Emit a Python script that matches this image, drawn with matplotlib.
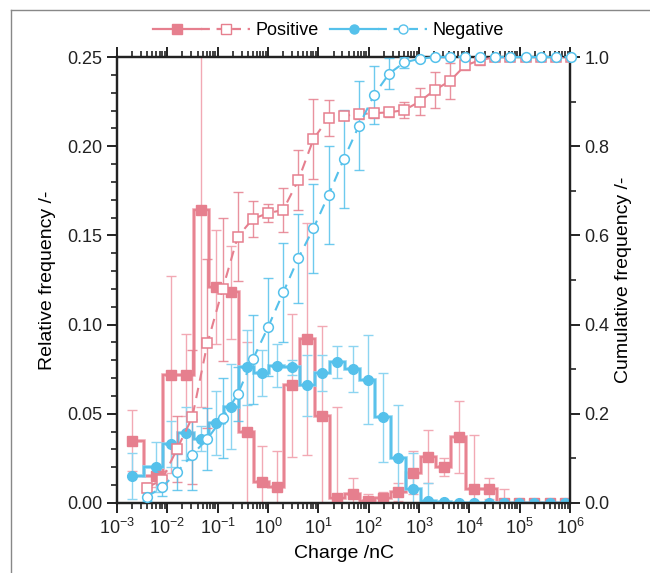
import matplotlib
matplotlib.use("Agg")
import matplotlib.pyplot as plt
from matplotlib.lines import Line2D
from matplotlib.legend_handler import HandlerTuple
from matplotlib.ticker import MultipleLocator, LogLocator, NullFormatter
import numpy as np

plt.rcParams['font.family'] = ['Liberation Sans', 'DejaVu Sans']
plt.rcParams['mathtext.fontset'] = 'custom'
plt.rcParams['mathtext.rm'] = 'Liberation Sans'
plt.rcParams['mathtext.it'] = 'Liberation Sans:italic'
plt.rcParams['mathtext.bf'] = 'Liberation Sans:bold'

# bin centres (relative frequency) and upper bin edges (cumulative), nC
centers = [0.00195, 0.00586, 0.0117, 0.0234, 0.0469, 0.0938, 0.1875, 0.375, 0.75,
           1.5, 3, 6, 12, 24, 48, 96, 192, 384, 768, 1536, 3072, 6144, 12288,
           24576, 49152, 98304, 196608, 393216, 786432]
upper_edges = [0.0039, 0.0078, 0.0156, 0.03125, 0.0625, 0.125, 0.25, 0.5, 1, 2,
               4, 8, 16, 32, 64, 128, 256, 512, 1024, 2048, 4096, 8192, 16384,
               32768, 65536, 131072, 262144, 524288, 1048576]

# positive charges
pos_rel = [0.035, 0.015, 0.072, 0.072, 0.164, 0.121, 0.118, 0.040, 0.012, 0.009,
           0.066, 0.092, 0.049, 0.003, 0.005, 0.001, 0.003, 0.006, 0.017, 0.026,
           0.020, 0.037, 0.008, 0.008, 0, 0, 0, 0, 0]
pos_rel_err = [0.017, 0.006, 0.055, 0.023, 0.11, 0.032, 0.026, 0.05, 0.02, 0.02,
               0.04, 0.065, 0.05, 0.051, 0.009, 0.004, 0.003, 0.005, 0.012, 0.015,
               0.005, 0.02, 0.03, 0.006, 0.008, 0, 0, 0, 0]
pos_cum = [0.034, 0.052, 0.121, 0.192, 0.358, 0.479, 0.597, 0.637, 0.650, 0.657,
           0.724, 0.816, 0.864, 0.868, 0.872, 0.874, 0.876, 0.881, 0.900, 0.926,
           0.946, 0.981, 0.993, 1.0, 1.0, 1.0, 1.0, 1.0, 1.0]
pos_cum_err = [0.01, 0.02, 0.074, 0.15, 0.19, 0.16, 0.10, 0.04, 0.02, 0.05,
               0.067, 0.09, 0.04, 0.01, 0.01, 0.01, 0.01, 0.018, 0.03, 0.04,
               0.04, 0.01, 0.01, 0, 0, 0, 0, 0, 0]

# negative charges
neg_rel = [0.015, 0.020, 0.033, 0.039, 0.036, 0.045, 0.054, 0.076, 0.073, 0.077,
           0.076, 0.066, 0.073, 0.079, 0.075, 0.069, 0.048, 0.025, 0.008, 0.001,
           0.0005, 0, 0, 0, 0, 0, 0, 0, 0]
neg_rel_err = [0.013, 0.014, 0.013, 0.015, 0.007, 0.018, 0.024, 0.021, 0.013, 0.012,
               0.004, 0.017, 0.01, 0.009, 0.013, 0.025, 0.025, 0.03, 0.02, 0.01,
               0, 0, 0, 0, 0, 0, 0, 0, 0]
neg_cum = [0.014, 0.035, 0.069, 0.108, 0.144, 0.190, 0.244, 0.322, 0.394, 0.472,
           0.549, 0.616, 0.691, 0.771, 0.846, 0.915, 0.963, 0.988, 0.996, 1.0,
           1.0, 1.0, 1.0, 1.0, 1.0, 1.0, 1.0, 1.0, 1.0]
neg_cum_err = [0.01, 0.02, 0.04, 0.08, 0.07, 0.09, 0.06, 0.10, 0.11, 0.11,
               0.10, 0.10, 0.11, 0.11, 0.10, 0.065, 0.035, 0.012, 0.005, 0,
               0, 0, 0, 0, 0, 0, 0, 0, 0]

red = '#E67F8E'
red_light = '#F2A9B4'
blue = '#55C1EB'
blue_light = '#8DD5F1'


def step_xy(x, y):
    # step line centred on each bin, transitions at log-midpoints
    x = np.asarray(x, float)
    edges = np.concatenate([[x[0]], np.sqrt(x[:-1] * x[1:]), [x[-1]]])
    return np.repeat(edges, 2)[1:-1], np.repeat(np.asarray(y, float), 2)


fig = plt.figure(figsize=(6.5, 5.73), dpi=100)
ax = fig.add_axes([0.18, 0.1222, 0.697, 0.7783])
ax2 = ax.twinx()

# relative frequency (left axis)
for rel, err, c, cl, mk, ms in [(pos_rel, pos_rel_err, red, red_light, 's', 6.5),
                                (neg_rel, neg_rel_err, blue, blue_light, 'o', 7)]:
    ax.errorbar(centers, rel, yerr=err, fmt='none', ecolor=cl, elinewidth=1,
                capsize=3.5, capthick=1, zorder=2)
    sx, sy = step_xy(centers, rel)
    ax.plot(sx, sy, color=cl, lw=2.6, zorder=3, solid_joinstyle='miter')
    ax.plot(sx, sy, color=c, lw=1.3, zorder=3, solid_joinstyle='miter')
    ax.plot(centers, rel, ls='none', marker=mk, ms=ms, color=c, mec=c, zorder=4)

# cumulative frequency (right axis)
for cum, err, c, mk, ms, z in [(pos_cum, pos_cum_err, red, 's', 6.5, 4),
                               (neg_cum, neg_cum_err, blue, 'o', 7, 5)]:
    ax2.errorbar(upper_edges, cum, yerr=err, fmt='none', ecolor=c, elinewidth=1,
                 capsize=3.5, capthick=1, zorder=z - 2, alpha=0.85)
    ax2.plot(upper_edges, cum, ls=(0, (5, 3.5)), lw=1.5, color=c, marker=mk, ms=ms,
             mfc='white', mec=c, mew=1.1, zorder=z, clip_on=(mk == 's'))

ax.set_xscale('log')
ax.set_xlim(1e-3, 1e6)
ax.set_ylim(0, 0.25)
ax2.set_ylim(0, 1.0)
ax.xaxis.set_major_locator(LogLocator(base=10, numticks=12))
ax.xaxis.set_minor_locator(LogLocator(base=10, subs=np.arange(2, 10), numticks=12))
ax.xaxis.set_minor_formatter(NullFormatter())
ax.yaxis.set_major_locator(MultipleLocator(0.05))
ax.yaxis.set_minor_locator(MultipleLocator(0.01))
ax.yaxis.set_major_formatter(plt.FuncFormatter(lambda v, p: f'{v:.2f}'))
ax2.yaxis.set_major_locator(MultipleLocator(0.2))
ax2.yaxis.set_minor_locator(MultipleLocator(0.1))
ax2.yaxis.set_major_formatter(plt.FuncFormatter(lambda v, p: f'{v:.1f}'))

for a in (ax, ax2):
    for s in a.spines.values():
        s.set_linewidth(1.6)
        s.set_color('#222222')
ax.tick_params(axis='x', which='both', top=True, direction='out')
ax.tick_params(which='major', length=7, width=1.4, labelsize=13, colors='#222222')
ax.tick_params(which='minor', length=4, width=1.2, colors='#222222')
ax.tick_params(axis='y', which='both', right=False)
ax2.tick_params(which='major', length=7, width=1.4, labelsize=13, colors='#222222')
ax2.tick_params(which='minor', length=4, width=1.2, colors='#222222')

ax.set_xlabel('Charge /nC', fontsize=14, labelpad=5)
ax.set_ylabel('Relative frequency /-', fontsize=14, labelpad=8)
ax2.set_ylabel('Cumulative frequency /-', fontsize=14, labelpad=4)

# legend: solid step + dashed cumulative per polarity
hp = (Line2D([], [], color=red, lw=1.6, marker='s', ms=6.5),
      Line2D([], [], color=red, lw=1.6, ls=(0, (4, 3)), marker='s', ms=6.5,
             mfc='white', mec=red))
hn = (Line2D([], [], color=blue, lw=1.6, marker='o', ms=6.5),
      Line2D([], [], color=blue, lw=1.6, ls=(0, (4, 3)), marker='o', ms=6.5,
             mfc='white', mec=blue))
fig.legend([hp, hn], ['Positive', 'Negative'], loc='center',
           bbox_to_anchor=(0.505, 0.946), ncol=2, frameon=False, fontsize=13,
           handlelength=5.4, handletextpad=0.3, columnspacing=0.6, numpoints=1,
           handler_map={tuple: HandlerTuple(ndivide=None, pad=0.0)})

# gray frame lines (left and top) around the figure
for xs, ys in [([0.017, 0.017], [0.9825, -0.01]), ([0.017, 1.01], [0.9825, 0.9825])]:
    fig.add_artist(Line2D(xs, ys, transform=fig.transFigure, color='#888888', lw=1))

fig.savefig('out.png', dpi=100)
